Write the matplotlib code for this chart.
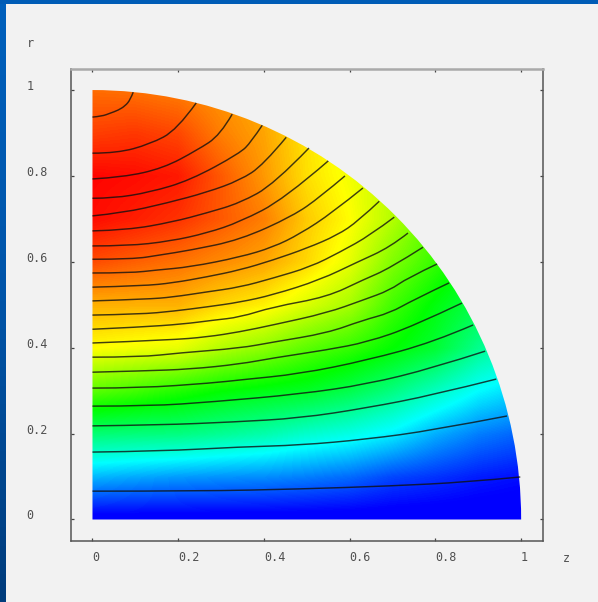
#!/usr/bin/env python3
"""Quarter disc field in the z-r plane, with its contour lines."""
import matplotlib
matplotlib.use("Agg")
import matplotlib.pyplot as plt
import numpy as np
from matplotlib.colors import LinearSegmentedColormap
from matplotlib.patches import PathPatch, Wedge
from matplotlib.path import Path

# tick positions and labels
ticks = [0, 0.2, 0.4, 0.6, 0.8, 1]
tick_labels = ["0", "0.2", "0.4", "0.6", "0.8", "1"]

# colour field, rows r = 0..1, columns z = 0..1 (step 0.1)
field = [
    [0, 0, 0, 0, 0, 0, 0, 0, 0, 0, 0],
    [.75, .70, .65, .62, .60, .55, .48, .35, .28, .20, .15],
    [1.55, 1.52, 1.50, 1.42, 1.33, 1.20, 1.10, .95, .72, .55, .45],
    [2.35, 2.25, 2.12, 2.00, 1.92, 1.85, 1.70, 1.50, 1.25, 1.00, .85],
    [3.00, 2.95, 2.90, 2.70, 2.55, 2.35, 2.20, 2.00, 1.80, 1.45, 1.20],
    [3.30, 3.30, 3.30, 3.15, 3.05, 2.85, 2.65, 2.25, 1.95, 1.70, 1.50],
    [3.70, 3.62, 3.55, 3.45, 3.35, 3.15, 2.90, 2.50, 2.20, 1.90, 1.70],
    [3.95, 3.88, 3.80, 3.65, 3.50, 3.20, 3.00, 2.70, 2.35, 2.10, 1.90],
    [3.98, 3.95, 3.90, 3.65, 3.40, 3.12, 2.95, 2.75, 2.40, 2.20, 2.00],
    [3.75, 3.78, 3.72, 3.50, 3.35, 3.10, 2.90, 2.70, 2.40, 2.20, 2.00],
    [3.57, 3.55, 3.50, 3.40, 3.30, 3.10, 2.90, 2.70, 2.40, 2.20, 2.00],
]

# contour lines, bottom to top
c01_z = [0, .251, .484, .694, .874, .998]
c01_r = [.066, .066, .071, .078, .087, .099]
c02_z = [0, .158, .344, .484, .641, .795, .967]
c02_r = [.157, .159, .169, .173, .187, .208, .241]
c03_z = [0, .158, .328, .484, .641, .795, .942]
c03_r = [.218, .220, .227, .236, .260, .290, .327]
c04_z = [0, .134, .281, .484, .641, .795, .916]
c04_r = [.264, .264, .274, .292, .315, .353, .392]
c05_z = [0, .111, .281, .344, .484, .641, .795, .888]
c05_r = [.306, .306, .318, .325, .339, .371, .413, .453]
c06_z = [0, .118, .228, .344, .421, .547, .641, .748, .862]
c06_r = [.343, .346, .350, .362, .376, .395, .413, .450, .504]
c07_z = [0, .111, .204, .344, .421, .547, .631, .694, .748, .832]
c07_r = [.378, .378, .388, .399, .413, .434, .464, .481, .511, .551]
c08_z = [0, .181, .267, .344, .421, .547, .631, .694, .734, .804]
c08_r = [.411, .418, .425, .437, .453, .481, .511, .534, .562, .595]
c09_z = [0, .111, .211, .281, .344, .421, .547, .631, .694, .771]
c09_r = [.443, .448, .455, .464, .471, .495, .518, .558, .585, .634]
c10_z = [0, .111, .188, .267, .344, .421, .531, .617, .694, .736]
c10_r = [.476, .478, .485, .495, .506, .523, .558, .599, .634, .667]
c11_z = [0, .127, .188, .267, .344, .421, .508, .578, .648, .704]
c11_r = [.509, .513, .518, .530, .541, .562, .588, .623, .662, .704]
c12_z = [0, .118, .188, .267, .344, .421, .501, .571, .620, .669]
c12_r = [.541, .544, .551, .565, .581, .604, .632, .662, .695, .741]
c13_z = [0, .087, .151, .228, .344, .421, .484, .559, .631]
c13_r = [.574, .574, .581, .588, .611, .634, .665, .714, .772]
c14_z = [0, .094, .158, .228, .344, .468, .531, .589]
c14_r = [.606, .606, .616, .627, .651, .707, .751, .800]
c15_z = [0, .081, .181, .267, .344, .447, .550]
c15_r = [.637, .637, .648, .667, .693, .746, .835]
c16_z = [0, .081, .188, .267, .344, .424, .505]
c16_r = [.672, .674, .693, .714, .737, .781, .865]
c17_z = [0, .071, .174, .267, .344, .398, .452]
c17_r = [.707, .714, .737, .762, .790, .825, .890]
c18_z = [0, .048, .134, .228, .344, .370, .396]
c18_r = [.748, .748, .762, .790, .853, .879, .918]
c19_z = [0, .071, .165, .244, .298, .326]
c19_r = [.793, .797, .818, .860, .895, .944]
c20_z = [0, .057, .134, .197, .242]
c20_r = [.853, .853, .874, .907, .970]
c21_z = [0, .022, .041, .060, .076, .088, .095]
c21_r = [.937, .939, .946, .953, .963, .977, .995]

contours = [
    (c01_z, c01_r), (c02_z, c02_r), (c03_z, c03_r), (c04_z, c04_r), (c05_z, c05_r),
    (c06_z, c06_r), (c07_z, c07_r), (c08_z, c08_r), (c09_z, c09_r), (c10_z, c10_r),
    (c11_z, c11_r), (c12_z, c12_r), (c13_z, c13_r), (c14_z, c14_r), (c15_z, c15_r),
    (c16_z, c16_r), (c17_z, c17_r), (c18_z, c18_r), (c19_z, c19_r), (c20_z, c20_r),
    (c21_z, c21_r),
]


def rounded(z, r):
    # read points act as bezier controls, so the contour has no corners
    pts = np.column_stack([z, r])
    verts = [pts[0]]
    codes = [Path.MOVETO]
    for i in range(1, len(pts) - 1):
        end = pts[i + 1] if i == len(pts) - 2 else (pts[i] + pts[i + 1]) / 2
        verts += [pts[i], end]
        codes += [Path.CURVE3, Path.CURVE3]
    return Path(verts, codes)


W, H = 598, 602
fig = plt.figure(figsize=(W / 100, H / 100), dpi=100, facecolor="#f2f2f2")

# blue slide border on the top and left edges
border = LinearSegmentedColormap.from_list("border", ["#0060bc", "#0054a8", "#003c7c"])
strip = fig.add_axes([0, 0, 6 / W, 1])
strip.imshow(np.linspace(0, 1, 64).reshape(-1, 1), cmap=border, aspect="auto")
strip.axis("off")
top = fig.add_axes([0, 1 - 4 / H, 1, 4 / H])
top.set_facecolor("#005cb6")
top.set_xticks([])
top.set_yticks([])
for s in top.spines.values():
    s.set_visible(False)

ax = fig.add_axes([70.5 / W, 1 - 540.5 / H, 472.5 / W, 471.5 / H])
ax.set_facecolor("#f2f2f2")

jetish = LinearSegmentedColormap.from_list(
    "jetish",
    [(0, "#0000ff"), (.025, "#0000ff"), (.25, "#00ffff"), (.5, "#00ff00"), (.75, "#ffff00"), (1, "#ff0000")],
)
im = ax.imshow(field, origin="lower", extent=(-.05, 1.05, -.05, 1.05), cmap=jetish, vmin=0, vmax=4,
               interpolation="bilinear", interpolation_stage="data", aspect="auto")
disc = Wedge((0, 0), 1, 0, 90, transform=ax.transData)
im.set_clip_path(disc)

for z, r in contours:
    ax.add_patch(PathPatch(rounded(z, r), fill=False, edgecolor="#111111", lw=1.05, alpha=0.8, capstyle="butt"))

ax.set_xlim(-0.0513, 1.051)
ax.set_ylim(-0.0489, 1.049)

ax.set_xticks(ticks)
ax.set_xticklabels(tick_labels, family="DejaVu Sans Mono", fontsize=8.5, color="#505050", ha="left")
ax.set_yticks(ticks)
ax.set_yticklabels(tick_labels, family="DejaVu Sans Mono", fontsize=8.5, color="#505050", ha="left", va="baseline")
ax.tick_params(axis="x", direction="in", length=2.5, width=0.9, color="#444444", top=True, pad=7.5)
ax.tick_params(axis="y", direction="in", length=2.5, width=0.9, color="#444444", right=True, pad=31.7)

for side in ["left", "bottom", "right"]:
    ax.spines[side].set_color("#555555")
    ax.spines[side].set_linewidth(1.1)
ax.spines["top"].set_color("#aaaaaa")
ax.spines["top"].set_linewidth(1.8)

ax.set_xlabel("z", family="DejaVu Sans Mono", fontsize=8.5, color="#505050")
ax.xaxis.set_label_coords(1.0487, -0.0245)
ax.set_ylabel("r", family="DejaVu Sans Mono", fontsize=8.5, color="#505050", rotation=0)
ax.yaxis.set_label_coords(-0.0857, 1.041)

fig.savefig("out.png", dpi=100)
